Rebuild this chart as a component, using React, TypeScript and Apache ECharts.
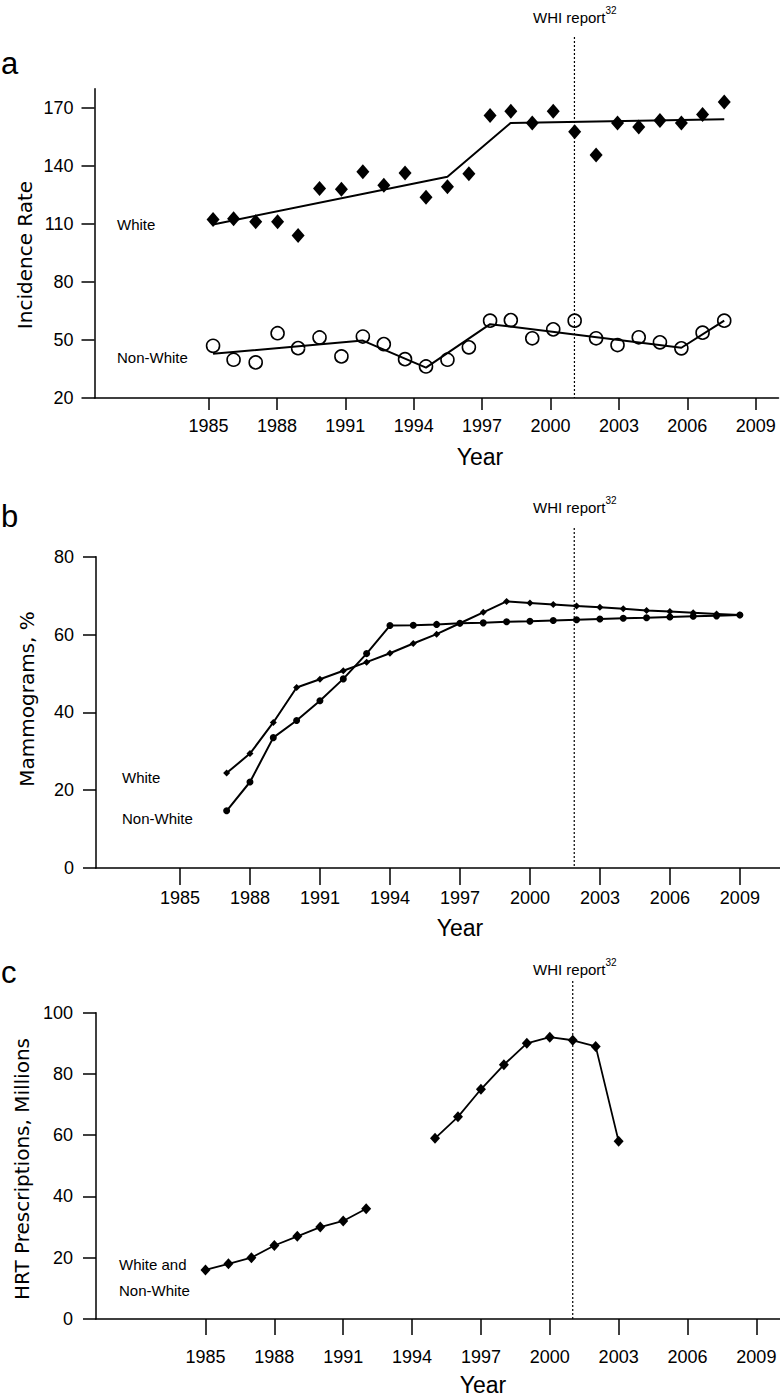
import React, { useEffect, useRef } from "react";
import * as echarts from "echarts";

// ---------- shared ----------
const xTickYears = [1985, 1988, 1991, 1994, 1997, 2000, 2003, 2006, 2009];

// ---------- panel a: incidence rate ----------
const incidenceYears = [
  1985.2, 1986.1, 1987.07, 1988.03, 1988.93, 1989.87, 1990.83, 1991.77, 1992.69,
  1993.62, 1994.54, 1995.48, 1996.42, 1997.35, 1998.26, 1999.2, 2000.12, 2001.06,
  2002.0, 2002.94, 2003.87, 2004.8, 2005.74, 2006.67, 2007.62,
];
const whiteIncidence = [
  112.4, 112.7, 111.2, 111.2, 104.0, 128.4, 128.0, 137.0, 130.1, 136.4, 123.8, 129.3,
  136.0, 166.2, 168.3, 162.3, 168.3, 157.7, 145.7, 162.3, 160.2, 163.6, 162.3, 166.7, 173.1,
];
const nonWhiteIncidence = [
  47.0, 39.8, 38.4, 53.5, 45.8, 51.3, 41.5, 51.8, 47.9, 40.1, 36.3, 39.8, 46.2, 60.0,
  60.3, 50.9, 55.5, 60.0, 50.9, 47.4, 51.4, 48.8, 45.7, 53.8, 60.0,
];
const whiteTrendYears = [1985.2, 1995.48, 1998.25, 2007.62];
const whiteTrend = [109.8, 134.4, 162.3, 164.2];
const nonWhiteTrendYears = [1985.2, 1991.77, 1994.54, 1997.35, 2005.74, 2007.62];
const nonWhiteTrend = [42.9, 49.7, 35.7, 58.2, 46.0, 60.0];
const incidenceTicks = [20, 50, 80, 110, 140, 170];

// ---------- panel b: mammograms ----------
const mammoYears = [
  1987, 1988, 1989, 1990, 1991, 1992, 1993, 1994, 1995, 1996, 1997, 1998, 1999, 2000,
  2001, 2002, 2003, 2004, 2005, 2006, 2007, 2008, 2009,
];
const whiteMammo = [
  24.4, 29.4, 37.4, 46.4, 48.5, 50.7, 52.9, 55.2, 57.7, 60.1, 62.9, 65.7, 68.5, 68.1,
  67.7, 67.3, 67.0, 66.6, 66.2, 65.9, 65.6, 65.3, 65.0,
];
const nonWhiteMammo = [
  14.7, 22.1, 33.5, 37.9, 43.0, 48.6, 55.1, 62.3, 62.4, 62.6, 62.9, 63.0, 63.3, 63.4,
  63.6, 63.8, 64.0, 64.2, 64.3, 64.5, 64.7, 64.8, 65.0,
];
const mammoTicks = [0, 20, 40, 60, 80];

// ---------- panel c: HRT prescriptions ----------
const hrtYears = [
  1985, 1986, 1987, 1988, 1989, 1990, 1991, 1992, 1993, 1994, 1995, 1996, 1997, 1998,
  1999, 2000, 2001, 2002, 2003,
];
const hrtValues = [16, 18, 20, 24, 27, 30, 32, 36, null, null, 59, 66, 75, 83, 90, 92, 91, 89, 58];
const hrtTicks = [0, 20, 40, 60, 80, 100];

// WHI report year marker per panel
const whiYears = [2001.05, 2001.9, 2001.0];

const SANS = "'Liberation Sans', Arial, sans-serif";
const TITLE = "'DejaVu Sans', sans-serif";

function mkX(gridIndex: number, min: number, max: number, tickLen: number, margin: number) {
  return {
    type: "value",
    gridIndex,
    min,
    max,
    axisLine: { show: true, onZero: false, lineStyle: { color: "#000", width: 1.5 } },
    axisTick: { show: true, length: tickLen, customValues: xTickYears, lineStyle: { color: "#000", width: 1.5 } },
    axisLabel: {
      customValues: xTickYears,
      margin,
      fontSize: 18,
      fontFamily: SANS,
      color: "#000",
      formatter: (v: number) => String(v),
    },
    splitLine: { show: false },
  };
}

function mkY(gridIndex: number, min: number, max: number, ticks: number[], margin: number) {
  return {
    type: "value",
    gridIndex,
    min,
    max,
    axisLine: { show: true, onZero: false, lineStyle: { color: "#000", width: 1.5 } },
    axisTick: { show: true, length: 13, customValues: ticks, lineStyle: { color: "#000", width: 1.5 } },
    axisLabel: { customValues: ticks, margin, fontSize: 18, fontFamily: SANS, color: "#000" },
    splitLine: { show: false },
  };
}

const pairs = (xs: number[], ys: (number | null)[]) => xs.map((x, i) => [x, ys[i]]);

export default function App() {
  const ref = useRef<HTMLDivElement>(null);
  useEffect(() => {
    if (!ref.current) return;
    const chart = echarts.init(ref.current, null, { renderer: "svg" });
    const option: any = {
      animation: false,
      backgroundColor: "#fff",
      grid: [
        { left: 94.5, top: 88.7, width: 684, height: 309.3, outerBoundsMode: "none" },
        { left: 96, top: 556.7, width: 684, height: 311.3, outerBoundsMode: "none" },
        { left: 96, top: 1012.7, width: 684, height: 306.3, outerBoundsMode: "none" },
      ],
      xAxis: [
        mkX(0, 1980, 2010, 12, 18.5),
        mkX(1, 1981.4, 2010.72, 17, 21),
        mkX(2, 1980.23, 2010.03, 16, 29),
      ],
      yAxis: [
        mkY(0, 20, 180, incidenceTicks, 21),
        mkY(1, 0, 80, mammoTicks, 22),
        mkY(2, 0, 100, hrtTicks, 23),
      ],
      series: [
        {
          type: "line",
          xAxisIndex: 0,
          yAxisIndex: 0,
          data: pairs(whiteTrendYears, whiteTrend),
          symbol: "none",
          lineStyle: { color: "#000", width: 2 },
          z: 2,
        },
        {
          type: "line",
          xAxisIndex: 0,
          yAxisIndex: 0,
          data: pairs(nonWhiteTrendYears, nonWhiteTrend),
          symbol: "none",
          lineStyle: { color: "#000", width: 2 },
          z: 2,
        },
        {
          type: "scatter",
          xAxisIndex: 0,
          yAxisIndex: 0,
          data: pairs(incidenceYears, whiteIncidence),
          symbol: "diamond",
          symbolSize: [13, 15],
          itemStyle: { color: "#000", opacity: 1 },
          z: 3,
        },
        {
          type: "scatter",
          xAxisIndex: 0,
          yAxisIndex: 0,
          data: pairs(incidenceYears, nonWhiteIncidence),
          symbol: "circle",
          symbolSize: 13,
          itemStyle: { color: "rgba(0,0,0,0)", borderColor: "#000", borderWidth: 1.6, opacity: 1 },
          z: 3,
        },
        {
          type: "line",
          xAxisIndex: 1,
          yAxisIndex: 1,
          data: pairs(mammoYears, whiteMammo),
          symbol: "diamond",
          symbolSize: 7,
          showAllSymbol: true,
          itemStyle: { color: "#000" },
          lineStyle: { color: "#000", width: 2 },
        },
        {
          type: "line",
          xAxisIndex: 1,
          yAxisIndex: 1,
          data: pairs(mammoYears, nonWhiteMammo),
          symbol: "circle",
          symbolSize: 7,
          showAllSymbol: true,
          itemStyle: { color: "#000" },
          lineStyle: { color: "#000", width: 2 },
        },
        {
          type: "line",
          xAxisIndex: 2,
          yAxisIndex: 2,
          data: pairs(hrtYears, hrtValues),
          connectNulls: false,
          symbol: "diamond",
          symbolSize: [10, 11],
          showAllSymbol: true,
          itemStyle: { color: "#000" },
          lineStyle: { color: "#000", width: 1.8 },
        },
      ],
    };
    chart.setOption(option);

    // layout of annotations (page pixels)
    const whiTextY = [15, 505, 967];
    const whiLineTop = [37, 528, 981];
    const yMins = [20, 0, 0];
    const letters = [
      { t: "a", y: 63 },
      { t: "b", y: 516 },
      { t: "c", y: 972 },
    ];
    const yTitles = [
      { t: "Incidence Rate", x: 25, y: 255 },
      { t: "Mammograms, %", x: 27, y: 699 },
      { t: "HRT Prescriptions, Millions", x: 22, y: 1169 },
    ];
    const xTitles = [
      { x: 480, y: 457 },
      { x: 460, y: 928 },
      { x: 483, y: 1385 },
    ];
    const groupLabels = [
      { t: "White", x: 117, y: 224 },
      { t: "Non-White", x: 117, y: 357 },
      { t: "White", x: 122, y: 777 },
      { t: "Non-White", x: 122, y: 818 },
      { t: "White and", x: 119, y: 1264 },
      { t: "Non-White", x: 119, y: 1290 },
    ];

    const graphic: any[] = [];
    for (let i = 0; i < 3; i++) {
      const px = chart.convertToPixel({ xAxisIndex: i } as any, whiYears[i]) as number;
      const pyBottom = chart.convertToPixel({ yAxisIndex: i } as any, yMins[i]) as number;
      graphic.push({
        type: "line",
        shape: { x1: px, y1: whiLineTop[i], x2: px, y2: pyBottom },
        style: { stroke: "#000", lineWidth: 1.2, lineDash: [2, 2] },
        z: 1,
      });
      graphic.push({
        type: "text",
        x: 533,
        y: whiTextY[i],
        style: {
          text: "{m|WHI report}{s|32}",
          textAlign: "left",
          textVerticalAlign: "middle",
          fill: "#000",
          rich: {
            m: { fontSize: 15, fontFamily: SANS, lineHeight: 20, verticalAlign: "bottom" },
            s: { fontSize: 10, fontFamily: SANS, lineHeight: 11, verticalAlign: "top" },
          },
        },
      });
      graphic.push({
        type: "text",
        x: 1,
        y: letters[i].y,
        style: {
          text: letters[i].t,
          font: `31px ${SANS}`,
          fill: "#000",
          textAlign: "left",
          textVerticalAlign: "middle",
        },
      });
      graphic.push({
        type: "text",
        x: yTitles[i].x,
        y: yTitles[i].y,
        rotation: Math.PI / 2,
        style: {
          text: yTitles[i].t,
          font: `20px ${TITLE}`,
          fill: "#000",
          textAlign: "center",
          textVerticalAlign: "middle",
        },
      });
      graphic.push({
        type: "text",
        x: xTitles[i].x,
        y: xTitles[i].y,
        style: {
          text: "Year",
          font: `23px ${SANS}`,
          fill: "#000",
          textAlign: "center",
          textVerticalAlign: "middle",
        },
      });
    }
    for (const g of groupLabels) {
      graphic.push({
        type: "text",
        x: g.x,
        y: g.y,
        style: {
          text: g.t,
          font: `15px ${SANS}`,
          fill: "#000",
          textAlign: "left",
          textVerticalAlign: "middle",
        },
      });
    }
    chart.setOption({ graphic });

    return () => chart.dispose();
  }, []);
  return (
    <div
      ref={ref}
      style={{ position: "absolute", left: 0, top: 0, width: 780, height: 1400, background: "#fff" }}
    />
  );
}
